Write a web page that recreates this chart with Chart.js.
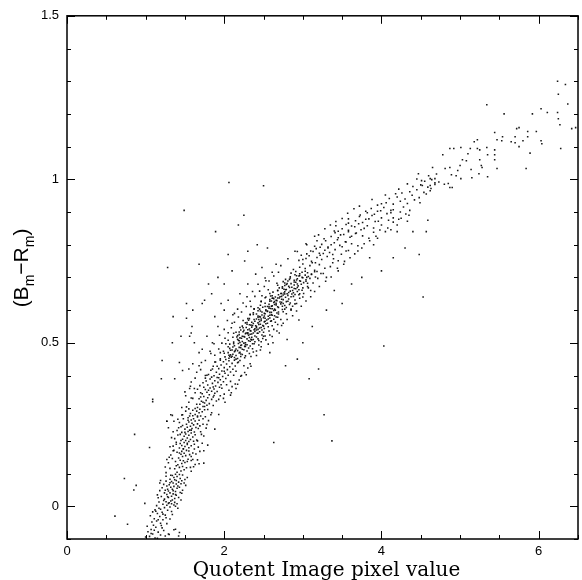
<!DOCTYPE html>
<html>
<head>
<meta charset="utf-8">
<script src="https://cdn.jsdelivr.net/npm/chart.js@4.4.1/dist/chart.umd.min.js"></script>
<style>
  html, body { margin: 0; padding: 0; background: #fff; }
  #wrap { width: 582px; height: 580px; position: relative; }
</style>
</head>
<body>
<div id="wrap"><canvas id="grafico"></canvas></div>
<script>
// pontos, em coordenadas (valor do pixel, B-R)
const lowBranch = [
  [1.05,-.092],[1.09,-.085],[1.12,-.097],[1.07,-.071],[1.13,-.064],[1.10,-.058],[1.16,-.079],[1.14,-.045],
  [1.19,-.052],[1.11,-.038],[1.18,-.031],[1.22,-.041],[1.15,-.022],[1.21,-.018],[1.25,-.027],[1.19,-.009],
  [1.24,-.004],[1.28,-.012],[1.22,.006],[1.27,.003],[1.31,-.002],[1.26,.014],[1.30,.011],[1.34,.019],
  [1.24,.022],[1.29,.027],[1.33,.031],[1.37,.024],[1.27,.036],[1.31,.041],[1.35,.038],[1.29,.047],
  [1.34,.052],[1.38,.045],[1.32,.058],[1.36,.061],[1.40,.055],[1.30,.066],[1.35,.071],[1.39,.068],
  [1.33,.076],[1.37,.081],[1.42,.074],[1.36,.088],[1.40,.091],[1.44,.085],[1.34,.094],[1.38,.098],
  [1.43,.097],[1.41,.062],[1.28,.052],[1.46,.078],[1.23,.018],[1.33,.008],[1.20,.030],[1.39,.034],
  [1.17,-.006],[1.13,-.015],[1.26,-.035],[1.08,-.048],[1.03,-.078],[1.15,-.098],[1.21,-.066],[1.34,-.025],
  [1.44,.042],[1.25,.049],[1.31,.083],[1.47,.096],[1.29,-.085],[1.36,-.072],[1.42,-.091],[1.18,.071],
  [1.51,.064],[1.37,.012],[1.32,.016],[1.28,.029],[1.35,.048],[1.31,.072],[1.39,.079],[1.27,.062],
  [1.02,-.061],[1.19,-.088],[1.23,-.074],[1.00,-.094],[1.16,-.041],[1.27,-.053],[1.06,-.029],[1.31,-.039],
  [1.12,-.011],[1.33,-.016],[1.17,.013],[1.40,.008],[1.15,.035],[1.42,.027],[1.21,.057],[1.47,.049],
  [1.19,.079],[1.49,.071],[1.26,.092],[1.53,.088],[1.24,.041],[1.45,.019],[1.22,-.024],[1.09,-.017],
  [1.36,.004],[1.41,-.006],[1.14,.002],[1.20,-.059],[1.26,.077],[1.50,.082],[1.18,.048],[1.43,.058],
  [1.11,-.073],[1.25,-.091],[1.38,.036],[1.32,.095],[1.45,.069],[1.23,.067],[1.29,.009],[1.16,.026]
];
const midLow = [
  [1.40,.104],[1.45,.108],[1.49,.112],[1.37,.115],[1.43,.119],[1.47,.122],[1.52,.118],[1.41,.127],
  [1.46,.131],[1.50,.134],[1.38,.137],[1.44,.141],[1.48,.139],[1.54,.144],[1.42,.148],[1.47,.152],
  [1.51,.155],[1.45,.159],[1.49,.162],[1.56,.158],[1.40,.165],[1.46,.168],[1.52,.171],[1.48,.175],
  [1.43,.178],[1.55,.179],[1.50,.183],[1.46,.186],[1.53,.189],[1.58,.185],[1.44,.192],[1.49,.195],
  [1.55,.198],[1.51,.201],[1.47,.205],[1.57,.204],[1.53,.209],[1.60,.212],[1.49,.214],[1.55,.217],
  [1.51,.221],[1.58,.224],[1.46,.226],[1.54,.229],[1.62,.227],[1.56,.233],[1.50,.236],[1.59,.238],
  [1.53,.242],[1.64,.241],[1.57,.245],[1.61,.249],[1.52,.251],[1.59,.254],[1.66,.252],[1.55,.258],
  [1.63,.261],[1.58,.264],[1.68,.263],[1.61,.268],[1.54,.271],[1.66,.273],[1.60,.277],[1.70,.276],
  [1.63,.281],[1.57,.284],[1.68,.286],[1.65,.291],[1.72,.289],[1.60,.294],[1.69,.297],[1.75,.295],
  [1.63,.299],[1.30,.15],[1.33,.21],[1.36,.26],[1.25,.12],[1.39,.19],[1.42,.24],[1.32,.28],
  [1.74,.17],[1.68,.13],[1.71,.22],[1.78,.25],[1.64,.16],[1.62,.19],[1.58,.14],[1.35,.17],
  [1.29,.24],[1.47,.28],[1.83,.28],[1.44,.22],[1.66,.20],[1.27,.26],[1.34,.278],
  [1.26,.103],[1.58,.107],[1.31,.116],[1.61,.121],[1.29,.133],[1.63,.128],[1.34,.146],[1.66,.142],
  [1.32,.157],[1.60,.163],[1.36,.171],[1.69,.168],[1.35,.184],[1.67,.181],[1.39,.196],[1.72,.193],
  [1.37,.207],[1.65,.203],[1.41,.218],[1.74,.215],[1.40,.232],[1.70,.228],[1.45,.243],[1.77,.239],
  [1.43,.256],[1.73,.251],[1.48,.268],[1.80,.262],[1.46,.279],[1.76,.274],[1.51,.291],[1.84,.286],
  [1.55,.298],[1.79,.296],[1.57,.119],[1.53,.137],[1.58,.152],[1.62,.175],[1.43,.163],[1.45,.201],
  [1.63,.219],[1.47,.247],[1.67,.238],[1.73,.268],[1.56,.276],[1.53,.193],[1.50,.226],[1.54,.263],
  [1.39,.124],[1.60,.143]
];
const midHigh = [
  [1.66,.302],[1.73,.305],[1.78,.309],[1.69,.312],[1.75,.316],[1.81,.314],[1.71,.321],[1.77,.324],
  [1.84,.327],[1.68,.329],[1.79,.332],[1.74,.336],[1.86,.334],[1.81,.341],[1.72,.344],[1.88,.346],
  [1.78,.349],[1.84,.352],[1.91,.351],[1.76,.357],[1.87,.359],[1.82,.362],[1.94,.364],[1.89,.368],
  [1.79,.371],[1.96,.372],[1.85,.376],[1.92,.379],[1.99,.381],[1.88,.384],[1.95,.387],[1.82,.389],
  [2.02,.391],[1.91,.394],[1.98,.397],[1.87,.399],[2.05,.401],[1.94,.404],[2.01,.407],[1.90,.410],
  [2.08,.411],[1.97,.414],[2.04,.418],[2.11,.419],[1.93,.421],[2.00,.424],[2.07,.427],[2.14,.429],
  [1.96,.432],[2.03,.435],[2.10,.437],[2.17,.439],[1.99,.442],[2.06,.445],[2.13,.447],[2.20,.446],
  [2.02,.449],[1.60,.33],[1.58,.38],[1.65,.41],[1.71,.44],[1.62,.36],[1.55,.42],[1.76,.40],
  [1.68,.47],[2.15,.36],[2.22,.40],[2.08,.34],[1.99,.33],[2.25,.43],[1.85,.42],[1.50,.35],
  [1.21,.446],[1.20,.39],[1.09,.327],[1.43,.44],[1.47,.415],[1.72,.48],[1.83,.467],[1.68,.43],
  [1.60,.436],[1.37,.39],[1.56,.36],
  [1.52,.304],[1.86,.308],[1.55,.318],[1.90,.322],[1.58,.331],[1.95,.338],[1.63,.347],[2.00,.343],
  [1.66,.358],[2.06,.355],[1.69,.369],[2.10,.366],[1.73,.378],[2.14,.374],[1.76,.392],[2.19,.386],
  [1.80,.403],[2.21,.398],[1.83,.416],[2.26,.409],[1.86,.428],[2.30,.423],[1.89,.441],[2.33,.436],
  [1.70,.334],[1.93,.327],[1.97,.361],[1.84,.395],[2.08,.382],[2.15,.413],[1.95,.447],[1.73,.318],
  [1.80,.355],[2.03,.372],[1.91,.428],[2.18,.441],[1.77,.383],[2.12,.401],[1.87,.339],[1.65,.312]
];
const core = [
  [1.95,.451],[2.01,.457],[2.06,.453],[2.10,.459],[2.13,.455],[2.17,.452],[2.21,.458],[2.26,.454],[2.09,.456],[2.15,.450],
  [2.00,.468],[2.06,.462],[2.11,.465],[2.15,.461],[2.19,.469],[2.23,.464],[2.27,.460],[2.32,.467],[2.08,.463],[2.21,.466],
  [1.99,.474],[2.05,.470],[2.10,.478],[2.13,.473],[2.17,.476],[2.20,.471],[2.25,.479],[2.29,.475],[2.37,.472],[2.08,.477],
  [2.07,.483],[2.11,.487],[2.15,.481],[2.19,.486],[2.23,.480],[2.27,.489],[2.31,.484],[2.36,.482],[2.05,.488],[2.21,.485],
  [2.07,.496],[2.13,.491],[2.18,.498],[2.22,.493],[2.25,.499],[2.29,.494],[2.33,.490],[2.38,.497],[2.21,.492],[2.27,.495],[2.44,.493],[2.02,.497],
  [2.12,.502],[2.18,.508],[2.23,.504],[2.27,.500],[2.31,.506],[2.35,.509],[2.39,.503],[2.44,.507],[2.20,.501],[2.33,.505],[2.05,.508],[2.47,.503],
  [2.11,.517],[2.17,.511],[2.22,.514],[2.25,.519],[2.29,.512],[2.32,.516],[2.37,.510],[2.41,.518],[2.49,.513],[2.20,.515],[2.34,.511],[2.26,.518],
  [2.19,.525],[2.23,.520],[2.27,.528],[2.31,.523],[2.35,.527],[2.39,.521],[2.43,.529],[2.48,.524],[2.17,.522],[2.33,.526],[2.12,.529],[2.52,.521],
  [2.19,.533],[2.25,.538],[2.30,.531],[2.34,.536],[2.37,.530],[2.41,.539],[2.45,.534],[2.50,.532],[2.33,.537],[2.39,.535],[2.28,.530],[2.57,.536],
  [2.24,.546],[2.30,.540],[2.35,.548],[2.39,.543],[2.43,.541],[2.47,.547],[2.51,.544],[2.56,.549],[2.32,.542],[2.45,.545],[2.38,.540],[2.20,.547],
  [2.23,.551],[2.29,.557],[2.34,.554],[2.37,.559],[2.41,.550],[2.44,.556],[2.49,.553],[2.53,.558],[2.61,.552],[2.32,.555],[2.46,.557],[2.40,.552],
  [2.31,.569],[2.35,.563],[2.39,.566],[2.43,.561],[2.47,.568],[2.51,.564],[2.55,.560],[2.60,.567],[2.29,.562],[2.45,.565],[2.24,.568],[2.65,.563],
  [2.32,.574],[2.38,.571],[2.43,.578],[2.47,.573],[2.50,.577],[2.54,.570],[2.58,.576],[2.63,.572],[2.46,.579],[2.52,.575],[2.41,.573],[2.68,.578],
  [2.37,.587],[2.43,.582],[2.48,.585],[2.52,.589],[2.56,.581],[2.60,.586],[2.64,.583],[2.69,.588],[2.45,.580],[2.58,.584],[2.33,.587],[2.51,.582],
  [2.37,.592],[2.43,.598],[2.48,.594],[2.51,.590],[2.55,.596],[2.58,.593],[2.63,.599],[2.67,.591],[2.75,.595],[2.46,.597],[2.60,.593],[2.53,.598],
  [2.45,.603],[2.49,.609],[2.53,.601],[2.57,.606],[2.61,.604],[2.65,.600],[2.69,.608],[2.74,.602],[2.43,.607],[2.59,.605],[2.38,.603],[2.79,.608],
  [2.46,.615],[2.52,.611],[2.57,.618],[2.61,.613],[2.64,.617],[2.68,.610],[2.72,.619],[2.77,.614],[2.60,.612],[2.66,.616],[2.55,.611],[2.83,.617],
  [2.52,.621],[2.58,.627],[2.63,.623],[2.67,.629],[2.71,.625],[2.75,.620],[2.79,.626],[2.84,.622],[2.60,.628],[2.73,.624],[2.47,.626],[2.66,.621],
  [2.52,.638],[2.58,.632],[2.63,.635],[2.66,.630],[2.70,.637],[2.73,.633],[2.78,.639],[2.82,.634],[2.90,.631],[2.61,.636],[2.75,.632],[2.68,.637],
  [2.61,.644],[2.65,.640],[2.69,.647],[2.73,.642],[2.77,.649],[2.81,.645],[2.85,.641],[2.90,.648],[2.59,.643],[2.75,.646],[2.53,.640],[2.95,.647],
  [2.62,.655],[2.68,.659],[2.73,.651],[2.77,.656],[2.80,.650],[2.84,.658],[2.88,.653],[2.93,.657],[2.76,.652],[2.82,.654],
  [2.68,.661],[2.74,.667],[2.79,.663],[2.83,.669],[2.87,.660],[2.91,.665],[2.95,.662],[3.00,.668],[2.76,.664],[2.89,.666],
  [2.68,.676],[2.74,.671],[2.79,.678],[2.82,.673],[2.86,.670],[2.89,.677],[2.94,.674],[2.98,.679],[3.06,.672],[2.77,.675],
  [2.77,.683],[2.81,.689],[2.85,.681],[2.89,.686],[2.93,.680],[2.97,.688],[3.01,.684],[3.06,.682],[2.75,.687],[2.91,.685],
  [2.78,.694],[2.84,.698],[2.89,.691],[2.93,.696],[2.96,.690],[3.00,.699],[3.04,.693],[3.09,.697],[2.92,.692],
  [2.84,.702],[2.90,.708],[2.95,.704],[2.99,.700],[3.03,.707],[3.07,.703],[3.11,.709],[3.16,.701],[2.92,.705],
  [2.85,.713],[2.91,.718],[2.96,.711],[2.99,.716],[3.03,.719],[3.06,.714],[3.11,.710],[3.15,.717],[3.23,.712],
  [1.85,.50],[1.92,.55],[1.78,.52],[2.00,.60],[2.05,.63],[1.95,.47],[2.62,.50],[2.70,.53],[2.75,.56],[2.85,.60],
  [2.92,.62],[2.58,.47],[2.13,.59],[2.20,.65],[2.30,.68],[2.40,.71],[3.00,.64],[3.10,.66],[2.66,.74],[2.53,.69],
  [1.88,.58],[2.80,.51],[2.95,.57],[2.48,.73],[2.10,.56],[1.52,.62],[1.72,.62],[1.96,.62],[1.52,.575],[1.59,.55],
  [1.58,.53],[1.34,.50],[1.45,.52],[1.62,.50],[1.75,.63],[1.80,.68],[1.35,.58],[1.60,.60],
  [1.88,.462],[2.34,.458],[1.93,.481],[2.41,.475],[1.97,.499],[2.47,.488],[2.01,.514],[2.53,.509],[2.05,.531],[2.58,.524],
  [2.09,.546],[2.63,.541],[2.13,.563],[2.68,.556],[2.18,.579],[2.72,.571],[2.22,.594],[2.79,.589],[2.28,.611],[2.85,.603],
  [2.33,.627],[2.90,.619],[2.39,.642],[2.96,.636],[2.45,.658],[3.01,.651],[2.51,.672],[3.07,.668],[2.57,.689],[3.13,.683],
  [2.63,.704],[3.19,.697],[2.69,.716],[3.26,.712],[2.16,.518],[2.28,.547],[2.36,.553],[2.44,.571],[2.52,.566],[2.41,.588],
  [2.57,.611],[2.64,.603],[2.71,.641],[2.78,.662],[2.86,.649],[2.26,.489],[2.14,.476],[2.35,.517],[2.48,.539],[2.55,.597],
  [2.62,.637],[2.70,.668],[2.83,.694],[2.96,.706],[2.30,.574],[2.38,.604],[2.47,.627],[2.58,.651],[2.67,.682],[2.74,.612],
  [2.19,.506],[2.42,.529],[2.50,.551],[2.66,.579],[2.81,.627],[2.93,.669],[3.04,.688],[2.24,.534],[2.33,.586],[2.61,.584],
  [2.77,.603],[2.88,.642],[2.99,.661],[2.12,.497]
];
const bandSpread = [
  [1.74,.132],[1.79,.187],[1.88,.236],[1.93,.281],[2.01,.318],[2.09,.347],[2.17,.373],[2.28,.402],[2.34,.428],[2.41,.461],
  [2.46,.478],[2.56,.496],[2.61,.519],[2.67,.536],[2.73,.553],[2.80,.571],[2.87,.583],[2.92,.597],[2.98,.612],[3.04,.628],
  [3.10,.641],[3.15,.657],[3.21,.672],[3.29,.688],[3.36,.701],[3.44,.728],[3.53,.749],[3.66,.772],[3.78,.803],[3.93,.826],
  [4.08,.851],[4.22,.878],[4.36,.905],[4.49,.928],
  [1.27,.143],[1.31,.182],[1.35,.228],[1.41,.266],[1.46,.302],[1.51,.338],[1.57,.367],[1.63,.392],[1.70,.418],[1.76,.446],
  [1.82,.474],[1.87,.497],[1.94,.523],[2.00,.541],[2.04,.568],[2.11,.586],[2.17,.603],[2.24,.622],[2.29,.641],[2.36,.657],
  [2.43,.679],[2.52,.698],[2.61,.716],[2.72,.736],[2.81,.757],[2.93,.779],[3.04,.803],[3.15,.826],[3.28,.849],[3.42,.871],
  [3.57,.896],[3.72,.918],[3.88,.938],
  [2.50,.520],[2.56,.573],[2.69,.594],[2.36,.497],[2.43,.512],[2.21,.539],[2.27,.561],[2.59,.566],[2.64,.626],[2.80,.681],
  [2.87,.612],[2.96,.650],[3.05,.700],[2.15,.532],[2.34,.611],[2.48,.644],[2.56,.662],[2.72,.651],[2.41,.546],[2.30,.528],
  [1.70,.347],[1.86,.365],[1.74,.364],[1.93,.393],[1.78,.401],[2.00,.413],[1.88,.441],[2.07,.458],[1.66,.276],[1.75,.305],
  [1.58,.233],[1.69,.246],[1.48,.176],[1.55,.169],[1.61,.199],
  [2.10,.72],[2.30,.78],[2.00,.68],[1.92,.70],[2.42,.80],[2.18,.86],[1.84,.65],[2.26,.75],[2.55,.79],[2.05,.77],
  [3.00,.50],[3.12,.55],[2.93,.45],[3.30,.60],[3.50,.62],[3.20,.42],[3.62,.68],[4.00,.72],[4.30,.79],[4.48,.77],
  [3.40,.66],[3.75,.70],[2.78,.43],[3.08,.39],[4.15,.76]
];
const upperBand = [
  [2.88,.724],[2.96,.731],[3.03,.727],[3.09,.736],[3.15,.722],[3.21,.739],[3.28,.728],[3.00,.741],[3.12,.745],[3.35,.733],
  [2.95,.752],[3.04,.758],[3.11,.749],[3.18,.761],[3.24,.755],[3.31,.764],[3.39,.757],[3.08,.766],[3.22,.768],[3.45,.751],
  [3.05,.772],[3.13,.779],[3.21,.774],[3.28,.783],[3.34,.776],[3.41,.785],[3.49,.771],[3.17,.788],[3.32,.790],[3.55,.781],
  [3.15,.795],[3.24,.801],[3.32,.793],[3.40,.806],[3.47,.798],[3.54,.809],[3.62,.803],[3.29,.812],[3.44,.815],[3.70,.797],
  [3.27,.818],[3.36,.825],[3.45,.821],[3.52,.831],[3.60,.823],[3.67,.834],[3.76,.827],[3.41,.837],[3.58,.840],[3.84,.820],
  [3.40,.842],[3.50,.849],[3.58,.844],[3.66,.855],[3.74,.846],[3.82,.858],[3.90,.851],[3.55,.862],[3.71,.864],[3.98,.845],
  [3.58,.866],[3.67,.873],[3.76,.868],[3.84,.879],[3.92,.871],[4.00,.882],[4.09,.875],[3.72,.886],[3.88,.889],[4.15,.869],
  [3.73,.891],[3.82,.898],[3.91,.893],[3.99,.904],[4.07,.895],[4.15,.907],[4.24,.900],[3.87,.911],[4.03,.914],[4.31,.894],
  [3.30,.70],[3.45,.72],[3.60,.76],[3.75,.79],[3.90,.80],[4.05,.84],[4.20,.86],[3.52,.74],[3.05,.80],[3.20,.83],
  [3.35,.86],[3.50,.88],[2.90,.78],[3.65,.91],[4.35,.89],[4.40,.84],[3.85,.76],[3.95,.82],[4.20,.84],[4.59,.875],[4.57,.84],
  [3.00,.755],[3.16,.745],[3.26,.773],[3.38,.770],[3.36,.800],[3.50,.794],[3.48,.830],[3.62,.826],[3.62,.857],[3.78,.850],
  [3.80,.878],[3.96,.872],[3.95,.902],[4.12,.898],[3.22,.792],[3.45,.841],[3.10,.781],[3.55,.808],[3.68,.836],[4.00,.860],
  [3.18,.718],[3.38,.745],[3.58,.782],[3.85,.812],[4.12,.846],[4.33,.872],[2.98,.768],[3.18,.812],[3.42,.858],[3.58,.879],
  [3.80,.902],[4.00,.925],[4.18,.956],[4.25,.881],[3.70,.781],[3.90,.838],[4.15,.882]
];
const topBand = [
  [3.95,.921],[4.06,.928],[4.15,.924],[4.24,.933],[4.33,.926],[4.42,.937],[4.10,.941],[4.20,.946],[4.30,.940],[4.39,.951],
  [4.48,.944],[4.57,.955],[4.05,.952],[4.26,.958],[4.36,.962],[4.45,.968],[4.54,.960],[4.63,.972],[4.22,.970],[4.40,.978],
  [4.50,.983],[4.59,.976],[4.68,.989],[4.33,.986],[4.55,.994],[4.64,.999],[4.73,.992],[4.45,1.001],[4.60,1.011],[4.70,1.016],
  [4.62,.965],[4.80,.985],[4.12,.905],[4.28,.915],[4.87,.975]
];
const tail = [
  [5.34,1.228],[5.56,1.20],[6.24,1.30],[6.34,1.29],[6.25,1.26],[6.37,1.23],[6.03,1.216],[6.11,1.204],[5.92,1.20],[6.24,1.204],
  [6.25,1.185],[6.27,1.167],[6.47,1.158],[6.42,1.155],[5.72,1.155],[5.75,1.158],[5.86,1.146],[5.97,1.146],[5.44,1.143],[5.54,1.13],
  [5.47,1.121],[5.53,1.118],[5.22,1.121],[5.18,1.115],[5.70,1.13],[5.80,1.118],[5.86,1.13],[6.03,1.118],[6.04,1.109],[5.65,1.115],
  [5.70,1.112],[5.75,1.10],[5.89,1.08],[6.28,1.094],[5.34,1.097],[5.25,1.09],[5.22,1.094],[5.13,1.094],[5.10,1.078],[5.01,1.097],
  [4.92,1.094],[4.87,1.094],[4.78,1.075],[5.03,1.06],[5.08,1.057],[5.25,1.06],[5.28,1.036],[5.35,1.075],[5.44,1.075],[5.44,1.06],
  [5.47,1.033],[5.84,1.033],[5.35,1.008],[5.27,1.042],[5.14,1.03],[4.97,1.027],[4.81,1.033],[4.87,1.036],[5.00,1.042],[4.89,1.014],
  [4.95,1.011],[5.01,1.002],[5.15,1.005],[5.24,1.017],[4.85,.987],[4.90,.975],[4.65,1.036],[4.51,.996],[4.62,1.002],[4.68,1.002],
  [4.62,.981],[4.68,.984],[4.52,.981],[4.47,1.017],[5.44,1.09]
];
const outliers = [
  [0.61,-.03],[0.77,-.055],[0.99,.009],[0.88,.064],[0.73,.085],[0.85,.05],[0.86,.22],[1.09,.32],[1.05,.18],[1.49,.905],
  [2.06,.99],[3.27,.28],[3.37,.20],[4.03,.49],[4.53,.64],[1.89,.84],[1.28,.73],[2.25,.89],[2.50,.98],[1.46,.04],
  [1.38,-.07],[1.43,-.08],[1.30,-.086],[1.38,0],[1.07,-.083],[1.68,.74],[2.63,.195],[1.56,.52],[1.27,.26]
];

const xTickLabels = [0, 2, 4, 6];
const yTickLabels = [0, 0.5, 1, 1.5];

const grupos = [lowBranch, midLow, midHigh, core, bandSpread, upperBand, topBand, tail, outliers];

// moldura com marcas para dentro e títulos dos eixos
const molduraPlugin = {
  id: 'moldura',
  afterDraw(chart) {
    const { ctx, chartArea: a, scales } = chart;
    const sx = scales.x, sy = scales.y;
    ctx.save();
    ctx.strokeStyle = '#000';
    ctx.lineWidth = 1.5;
    ctx.strokeRect(a.left, a.top, a.right - a.left, a.bottom - a.top);
    ctx.lineWidth = 1;
    ctx.beginPath();
    for (let i = 0; i <= 13; i++) {
      const v = i * 0.5;
      const px = Math.round(sx.getPixelForValue(v)) + 0.5;
      const len = xTickLabels.includes(v) ? 8 : 4;
      ctx.moveTo(px, a.bottom); ctx.lineTo(px, a.bottom - len);
      ctx.moveTo(px, a.top); ctx.lineTo(px, a.top + len);
    }
    for (let i = -1; i <= 15; i++) {
      const v = i / 10;
      const py = Math.round(sy.getPixelForValue(v)) + 0.5;
      const len = (i % 5 === 0) ? 8 : 4;
      ctx.moveTo(a.left, py); ctx.lineTo(a.left + len, py);
      ctx.moveTo(a.right, py); ctx.lineTo(a.right - len, py);
    }
    ctx.stroke();

    // título do eixo x
    ctx.fillStyle = '#000';
    ctx.font = '20px "DejaVu Serif"';
    ctx.textAlign = 'center';
    ctx.textBaseline = 'alphabetic';
    ctx.fillText('Quotent Image pixel value', (a.left + a.right) / 2 + 4, 576);

    // título do eixo y com subscritos
    const big = '21px "Liberation Sans"', small = '14px "Liberation Sans"';
    const partes = [['(B', big, 0], ['m', small, 6], ['\u2212R', big, 0], ['m', small, 6], [')', big, 0]];
    let total = 0;
    partes.forEach(p => { ctx.font = p[1]; total += ctx.measureText(p[0]).width; });
    ctx.translate(28, 268);
    ctx.rotate(-Math.PI / 2);
    ctx.textAlign = 'left';
    let x = -total / 2;
    partes.forEach(p => {
      ctx.font = p[1];
      ctx.fillText(p[0], x, p[2]);
      x += ctx.measureText(p[0]).width;
    });
    ctx.restore();
  }
};

const canvas = document.getElementById('grafico');
const chart = new Chart(canvas.getContext('2d'), {
  type: 'scatter',
  data: {
    datasets: grupos.map(g => ({
      data: g.map(p => ({ x: p[0], y: p[1] })),
      backgroundColor: 'rgba(0,0,0,0.9)',
      borderWidth: 0,
      pointStyle: 'rect',
      pointRadius: 1.1
    }))
  },
  options: {
    responsive: true,
    maintainAspectRatio: false,
    animation: false,
    events: [],
    layout: { padding: { top: 15, right: 1, left: 0, bottom: 0 } },
    plugins: { legend: { display: false }, tooltip: { enabled: false } },
    scales: {
      x: {
        type: 'linear',
        min: 0,
        max: 6.5,
        grid: { display: false, drawTicks: false },
        border: { display: false },
        afterFit: s => { s.height = 41; },
        afterBuildTicks: s => { s.ticks = xTickLabels.map(v => ({ value: v })); },
        ticks: {
          autoSkip: false,
          maxRotation: 0,
          padding: 5,
          color: '#000',
          font: { family: 'Liberation Sans', size: 13 },
          callback: v => String(v)
        }
      },
      y: {
        type: 'linear',
        min: -0.1,
        max: 1.5,
        grid: { display: false, drawTicks: false },
        border: { display: false },
        afterFit: s => { s.width = 67; },
        afterBuildTicks: s => { s.ticks = yTickLabels.map(v => ({ value: v })); },
        ticks: {
          autoSkip: false,
          padding: 8,
          color: '#000',
          font: { family: 'Liberation Sans', size: 13 },
          callback: v => String(v)
        }
      }
    }
  },
  plugins: [molduraPlugin]
});
</script>
</body>
</html>
